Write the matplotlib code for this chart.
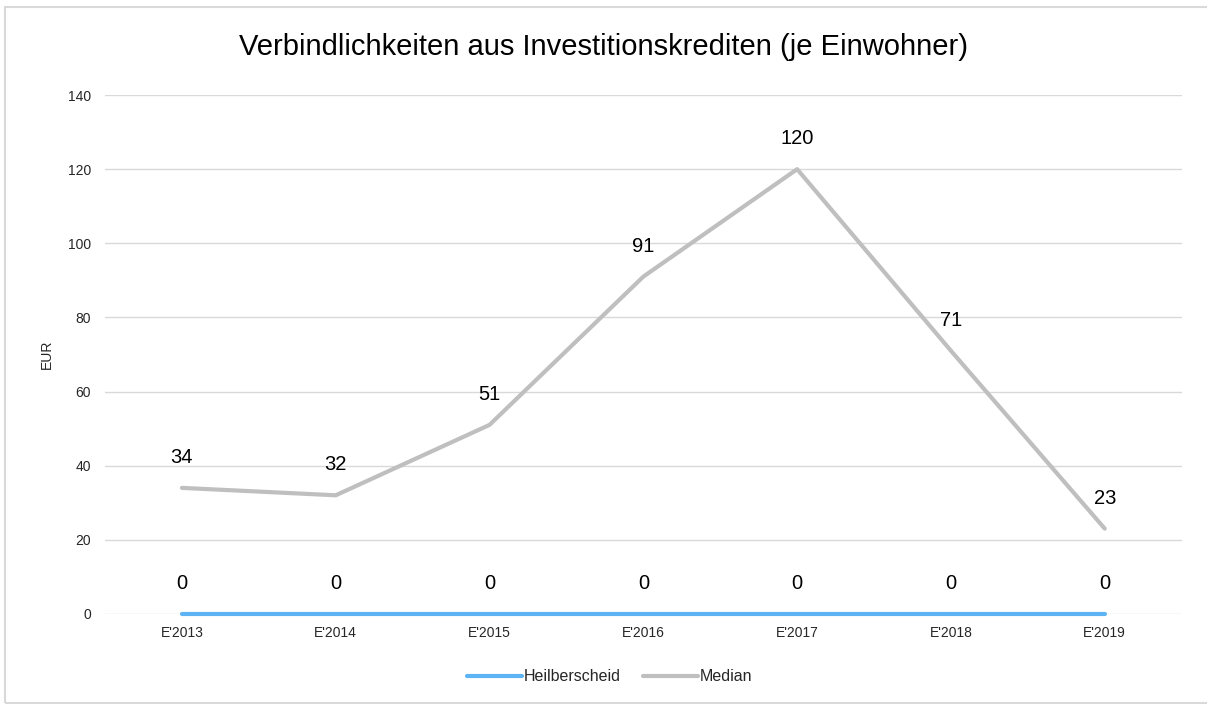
import matplotlib.pyplot as plt
from matplotlib.patches import Rectangle

plt.rcParams['font.family'] = ['Liberation Sans', 'DejaVu Sans']

jahre = ["E'2013", "E'2014", "E'2015", "E'2016", "E'2017", "E'2018", "E'2019"]
heilberscheid = [0, 0, 0, 0, 0, 0, 0]
median = [34, 32, 51, 91, 120, 71, 23]

fig = plt.figure(figsize=(12.07, 7.04), dpi=100)
ax = fig.add_axes([0.087, 0.128, 0.892, 0.737])

x = list(range(len(jahre)))
ax.plot(x, heilberscheid, color='#5DB4F5', linewidth=3, solid_capstyle='round',
        label='Heilberscheid', zorder=3, clip_on=False)
ax.plot(x, median, color='#BFBFBF', linewidth=3, solid_capstyle='round',
        label='Median', zorder=2, clip_on=False)

# Datenbeschriftungen
for xi, v in zip(x, heilberscheid):
    ax.annotate(str(v), (xi, v), xytext=(0, 22), textcoords='offset points',
                ha='center', va='center', fontsize=14.5, color='#000000')
for xi, v in zip(x, median):
    ax.annotate(str(v), (xi, v), xytext=(0, 22), textcoords='offset points',
                ha='center', va='center', fontsize=14.5, color='#000000')

ax.set_xlim(-0.5, len(jahre) - 0.5)
ax.set_ylim(0, 140)
ax.set_yticks(range(0, 141, 20))
ax.set_xticks(x)
ax.set_xticklabels(jahre)
ax.tick_params(axis='both', length=0, labelsize=10, colors='#262626')
ax.tick_params(axis='y', pad=10)
ax.tick_params(axis='x', pad=9)
ax.grid(axis='y', color='#D9D9D9', linewidth=1)
ax.set_axisbelow(True)
for s in ax.spines.values():
    s.set_visible(False)
ax.set_ylabel('EUR', fontsize=10, color='#262626', labelpad=10)

fig.text(0.5, 0.933, 'Verbindlichkeiten aus Investitionskrediten (je Einwohner)',
         fontsize=21, color='#000000', ha='center', va='center')

ax.legend(loc='center', bbox_to_anchor=(0.469, -0.121), ncol=2, frameon=False,
          fontsize=11.5, handlelength=3.4, handletextpad=0.15, columnspacing=1.4,
          labelcolor='#262626')

fig.patches.append(Rectangle((0.004, 0.001), 1.0, 0.989, transform=fig.transFigure,
                             fill=False, edgecolor='#D9D9D9', linewidth=1.5))

fig.savefig('out.png', dpi=100)
